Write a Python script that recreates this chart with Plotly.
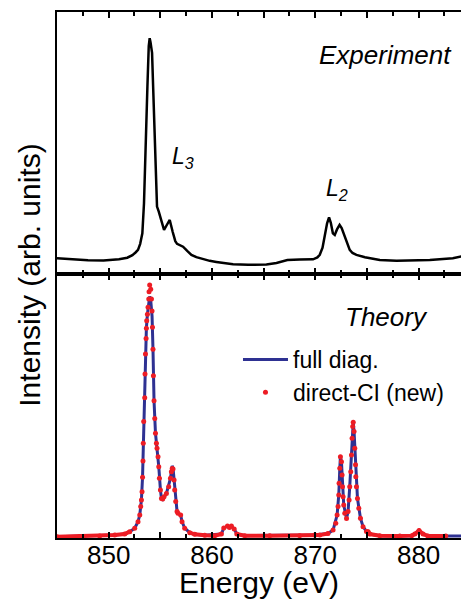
import plotly.graph_objects as go
from plotly.subplots import make_subplots

# ---------------- data ----------------
exp_energy = [845.0, 846.5, 848.0, 849.5, 851.0, 851.8, 852.3, 852.6, 852.84, 853.05,
              853.26, 853.42, 853.59, 853.75, 853.88, 853.97, 854.05, 854.20, 854.30, 854.39,
              854.50, 854.60, 854.68, 854.85, 855.10, 855.36, 855.60, 855.91, 856.20, 856.45,
              856.62, 857.00, 857.20, 857.60, 858.01, 858.49, 859.10, 859.78, 860.42, 861.40,
              862.04, 863.50, 865.27, 866.24, 867.30, 868.50, 869.78, 870.20, 870.43, 870.70,
              870.91, 871.14, 871.33, 871.50, 871.70, 871.88, 872.10, 872.35, 872.55, 872.85,
              873.10, 873.33, 873.60, 873.98, 874.80, 876.24, 877.86, 879.50, 881.08, 883.31,
              884.85]
exp_intensity = [6.0, 5.6, 5.2, 5.1, 5.6, 6.2, 7.2, 8.2, 9.2, 11.5,
                 15.5, 27.0, 46.1, 71.5, 87.0, 90.0, 88.5, 84.4, 72.0, 58.8,
                 42.0, 31.0, 25.7, 23.8, 20.0, 16.8, 18.5, 20.6, 16.0, 12.5,
                 11.5, 10.8, 10.4, 8.8, 7.3, 6.4, 5.7, 5.0, 4.6, 3.9,
                 3.7, 3.5, 3.6, 4.2, 5.3, 5.5, 5.6, 6.3, 7.3, 10.0,
                 14.2, 19.3, 21.6, 19.5, 15.5, 14.9, 17.0, 18.7, 17.5, 14.2,
                 11.5, 9.2, 8.0, 7.3, 6.4, 5.3, 5.0, 5.1, 5.3, 6.0,
                 7.3]

full_energy = [845.0, 849.13, 850.59, 851.55, 852.04, 852.52, 852.84, 853.01, 853.17, 853.28,
               853.35, 853.49, 853.56, 853.65, 853.75, 853.88, 853.97, 854.07, 854.14, 854.20,
               854.29, 854.39, 854.53, 854.68, 854.85, 855.01, 855.11, 855.23, 855.59, 855.98,
               856.15, 856.23, 856.39, 856.62, 856.71, 856.97, 857.10, 857.36, 857.85, 858.33,
               859.30, 860.91, 861.14, 861.50, 861.69, 861.88, 862.15, 862.40, 863.17, 869.95,
               871.23, 871.72, 872.11, 872.27, 872.37, 872.43, 872.53, 872.63, 872.75, 873.02,
               873.17, 873.33, 873.50, 873.62, 873.67, 873.75, 873.89, 874.08, 874.37, 874.62,
               874.95, 875.11, 875.27, 876.24, 879.34, 879.63, 880.04, 880.43, 880.89, 885.0]
full_intensity = [0.5, 0.8, 1.1, 1.5, 2.4, 3.7, 6.2, 8.7, 14.4, 23.0,
                  35.9, 53.1, 69.7, 79.4, 84.7, 88.6, 91.5, 90.0, 87.5, 84.0,
                  71.5, 52.0, 39.7, 34.0, 27.0, 18.2, 15.0, 14.6, 16.9, 22.6,
                  27.3, 26.5, 18.2, 10.0, 9.4, 8.7, 6.2, 3.7, 2.0, 1.4,
                  1.0, 1.5, 3.8, 4.5, 4.0, 4.5, 3.4, 1.5, 0.9, 1.1,
                  1.7, 3.0, 8.7, 16.3, 26.4, 30.8, 28.9, 19.4, 12.5, 7.4,
                  10.0, 19.4, 31.4, 42.2, 43.8, 40.3, 27.7, 15.0, 7.5, 4.3,
                  2.5, 2.4, 1.5, 0.9, 0.9, 1.5, 2.8, 1.5, 0.8, 0.7]

ci_energy = [845.0, 847.2, 849.13, 850.59, 851.55, 852.04, 852.52, 852.84, 853.01, 853.10,
             853.17, 853.23, 853.28, 853.32, 853.35, 853.39, 853.49, 853.52, 853.56, 853.62,
             853.65, 853.68, 853.75, 853.81, 853.88, 853.91, 853.97, 854.07, 854.14, 854.20,
             854.24, 854.29, 854.33, 854.39, 854.46, 854.53, 854.62, 854.68, 854.78, 854.85,
             854.91, 855.01, 855.11, 855.23, 855.36, 855.59, 855.81, 855.98, 856.07, 856.15,
             856.23, 856.33, 856.39, 856.49, 856.62, 856.71, 856.97, 857.10, 857.36, 857.85,
             858.33, 859.30, 860.27, 860.91, 861.14, 861.50, 861.69, 861.88, 862.15, 862.40,
             863.17, 865.59, 868.49, 869.95, 870.43, 871.23, 871.72, 871.98, 872.11, 872.20,
             872.27, 872.30, 872.37, 872.43, 872.53, 872.59, 872.63, 872.69, 872.75, 872.85,
             873.02, 873.17, 873.27, 873.33, 873.43, 873.50, 873.56, 873.62, 873.67, 873.75,
             873.82, 873.89, 873.92, 873.98, 874.08, 874.21, 874.37, 874.62, 874.95, 875.11,
             875.27, 876.24, 878.18, 879.34, 879.63, 880.04, 880.43, 880.89, 882.63]
ci_intensity = [0.5, 0.6, 0.8, 1.1, 1.5, 2.4, 3.7, 6.2, 8.7, 11.9,
                14.4, 17.5, 23.0, 29.2, 35.9, 44.1, 53.1, 62.1, 69.7, 75.6,
                79.4, 82.3, 84.7, 87.4, 90.5, 93.3, 95.8, 94.2, 90.5, 86.0,
                79.8, 71.5, 61.4, 52.0, 45.3, 39.7, 35.9, 34.0, 30.8, 27.0,
                22.6, 18.2, 15.0, 14.8, 15.6, 16.9, 19.4, 22.6, 25.1, 26.3,
                26.1, 22.0, 18.2, 13.8, 10.0, 9.4, 8.7, 6.2, 3.7, 2.0,
                1.4, 1.0, 0.9, 1.5, 3.8, 4.5, 4.0, 4.5, 3.4, 1.5,
                0.9, 0.9, 0.9, 1.1, 1.1, 1.7, 3.0, 5.6, 8.7, 11.9,
                16.3, 20.7, 26.4, 30.8, 28.9, 23.9, 19.4, 15.6, 12.5, 9.4,
                7.4, 10.0, 14.4, 19.4, 25.1, 31.4, 37.8, 42.2, 43.8, 40.3,
                34.0, 27.7, 23.2, 19.4, 15.0, 11.3, 7.5, 4.3, 2.5, 2.4,
                1.5, 0.9, 0.8, 0.9, 1.5, 2.8, 1.5, 0.8, 0.8]

tick_vals = [845, 850, 855, 860, 865, 870, 875, 880]
tick_text = ["", "850", "", "860", "", "870", "", "880"]
minor_tick_vals = [847.5, 852.5, 857.5, 862.5, 867.5, 872.5, 877.5, 882.5]

# ---------------- styling ----------------
FONT = "Liberation Sans, Arial, sans-serif"
BLUE = "#2E3192"
RED = "#ED1C24"

fig = make_subplots(rows=2, cols=1, shared_xaxes=True, vertical_spacing=0,
                    row_heights=[0.498, 0.502])

fig.add_trace(go.Scatter(x=exp_energy, y=exp_intensity, mode="lines",
                         line=dict(color="black", width=2.5), showlegend=False),
              row=1, col=1)

fig.add_trace(go.Scatter(x=full_energy, y=full_intensity, mode="lines",
                         name="full diag.", line=dict(color=BLUE, width=3)),
              row=2, col=1)

# thick red baseline where the dense CI points merge into a line
ci_base = [v if v < 3.0 else None for v in ci_intensity]
fig.add_trace(go.Scatter(x=ci_energy, y=ci_base, mode="lines",
                         line=dict(color=RED, width=4), connectgaps=False,
                         showlegend=False, hoverinfo="skip"),
              row=2, col=1)

fig.add_trace(go.Scatter(x=ci_energy, y=ci_intensity, mode="markers",
                         name="direct-CI (new)",
                         marker=dict(color=RED, size=5, line=dict(width=0))),
              row=2, col=1)

xcommon = dict(range=[845, 884.1], showline=True, linecolor="black", linewidth=2,
               mirror="ticks", ticks="inside", ticklen=6, tickwidth=2, tickcolor="black",
               tickmode="array", tickvals=tick_vals, ticktext=tick_text,
               minor=dict(tickmode="array", tickvals=minor_tick_vals,
                          ticks="inside", ticklen=4, tickwidth=2, tickcolor="black"),
               showgrid=False, zeroline=False, automargin=False)

fig.update_xaxes(**xcommon)
fig.update_xaxes(showticklabels=False, row=1, col=1)
fig.update_xaxes(showticklabels=True, tickfont=dict(family=FONT, size=26, color="black"),
                 ticklabelstandoff=-7,
                 title=dict(text="Energy (eV)", font=dict(family=FONT, size=30, color="black"),
                            standoff=8),
                 row=2, col=1)

ycommon = dict(showline=True, linecolor="black", linewidth=2, ticks="", showticklabels=False,
               showgrid=False, zeroline=False, mirror=False, automargin=False)
fig.update_yaxes(range=[0, 100], **ycommon)

fig.update_layout(
    width=453, height=591,
    margin=dict(l=49, r=0, t=4, b=61, autoexpand=False),
    plot_bgcolor="white", paper_bgcolor="white",
    font=dict(family=FONT, color="black"),
    legend=dict(x=0.448, y=0.308, xanchor="left", yanchor="middle", itemwidth=45,
                font=dict(family=FONT, size=23, color="black"),
                bgcolor="rgba(0,0,0,0)", borderwidth=0, tracegroupgap=0),
    annotations=[
        dict(text="Intensity (arb. units)", textangle=-90, xref="paper", yref="paper",
             x=-0.07, y=0.5, showarrow=False, xanchor="center", yanchor="middle",
             font=dict(family=FONT, size=30, color="black")),
        dict(text="<i>Experiment</i>", xref="x", yref="paper", x=876.8, y=0.950,
             showarrow=False, font=dict(family=FONT, size=26, color="black")),
        dict(text="<i>Theory</i>", xref="x", yref="paper", x=876.9, y=0.420,
             showarrow=False, font=dict(family=FONT, size=26, color="black")),
        dict(text="<i>L<sub>3</sub></i>", xref="x", yref="paper", x=857.2, y=0.755,
             showarrow=False, font=dict(family=FONT, size=23, color="black")),
        dict(text="<i>L<sub>2</sub></i>", xref="x", yref="paper", x=872.1, y=0.662,
             showarrow=False, font=dict(family=FONT, size=23, color="black")),
    ],
)

fig.write_html("out.html")
